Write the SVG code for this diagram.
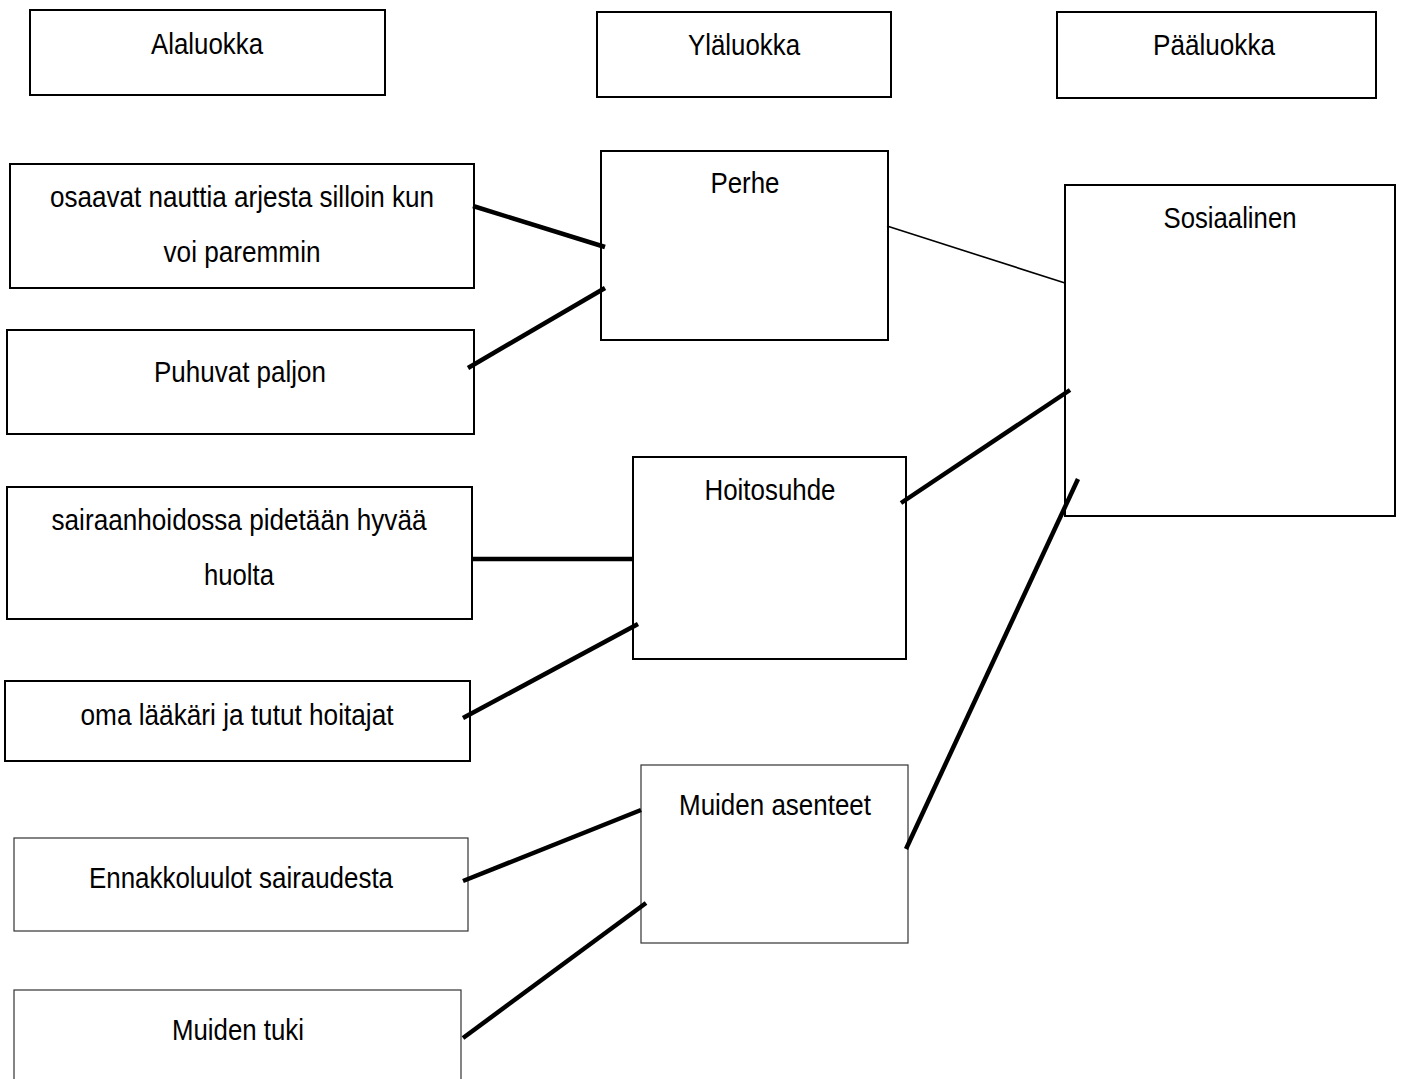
<svg xmlns="http://www.w3.org/2000/svg" width="1402" height="1079" viewBox="0 0 1402 1079">
<style>
.box{fill:#fff;stroke:#000;stroke-width:2}
.thin{fill:#fff;stroke:#333;stroke-width:1.2}
.t{font-family:"Liberation Sans",Arial,sans-serif;font-size:30px;fill:#000;text-anchor:middle}
.c{stroke:#000;stroke-width:4.5;fill:none}
.c1{stroke:#000;stroke-width:1.6;fill:none}
</style>
<rect width="1402" height="1079" fill="#fff"/>
<g id="h-alaluokka">
<rect class="box" x="30" y="10" width="355" height="85"/>
<text class="t" x="207" y="54" textLength="112" lengthAdjust="spacingAndGlyphs">Alaluokka</text>
</g>
<g id="h-ylaluokka">
<rect class="box" x="597" y="12" width="294" height="85"/>
<text class="t" x="744" y="55" textLength="112" lengthAdjust="spacingAndGlyphs">Yläluokka</text>
</g>
<g id="h-paaluokka">
<rect class="box" x="1057" y="12" width="319" height="86"/>
<text class="t" x="1214" y="55" textLength="122" lengthAdjust="spacingAndGlyphs">Pääluokka</text>
</g>
<g id="n-osaavat">
<rect class="box" x="10" y="164" width="464" height="124"/>
<text class="t" x="242" y="207" textLength="384" lengthAdjust="spacingAndGlyphs">osaavat nauttia arjesta silloin kun</text>
<text class="t" x="242" y="262" textLength="157" lengthAdjust="spacingAndGlyphs">voi paremmin</text>
</g>
<g id="n-puhuvat">
<rect class="box" x="7" y="330" width="467" height="104"/>
<text class="t" x="240" y="382" textLength="172" lengthAdjust="spacingAndGlyphs">Puhuvat paljon</text>
</g>
<g id="n-sairaanhoidossa">
<rect class="box" x="7" y="487" width="465" height="132"/>
<text class="t" x="239" y="530" textLength="375" lengthAdjust="spacingAndGlyphs">sairaanhoidossa pidetään hyvää</text>
<text class="t" x="239" y="585" textLength="70" lengthAdjust="spacingAndGlyphs">huolta</text>
</g>
<g id="n-oma">
<rect class="box" x="5" y="681" width="465" height="80"/>
<text class="t" x="237" y="725" textLength="313" lengthAdjust="spacingAndGlyphs">oma lääkäri ja tutut hoitajat</text>
</g>
<g id="n-ennakkoluulot">
<rect class="thin" x="14" y="838" width="454" height="93"/>
<text class="t" x="241" y="888" textLength="304" lengthAdjust="spacingAndGlyphs">Ennakkoluulot sairaudesta</text>
</g>
<g id="n-muiden-tuki">
<rect class="thin" x="14" y="990" width="447" height="100"/>
<text class="t" x="238" y="1040" textLength="132" lengthAdjust="spacingAndGlyphs">Muiden tuki</text>
</g>
<g id="n-perhe">
<rect class="box" x="601" y="151" width="287" height="189"/>
<text class="t" x="745" y="193" textLength="69" lengthAdjust="spacingAndGlyphs">Perhe</text>
</g>
<g id="n-hoitosuhde">
<rect class="box" x="633" y="457" width="273" height="202"/>
<text class="t" x="770" y="500" textLength="131" lengthAdjust="spacingAndGlyphs">Hoitosuhde</text>
</g>
<g id="n-muiden-asenteet">
<rect class="thin" x="641" y="765" width="267" height="178"/>
<text class="t" x="775" y="815" textLength="192" lengthAdjust="spacingAndGlyphs">Muiden asenteet</text>
</g>
<g id="n-sosiaalinen">
<rect class="box" x="1065" y="185" width="330" height="331"/>
<text class="t" x="1230" y="228" textLength="133" lengthAdjust="spacingAndGlyphs">Sosiaalinen</text>
</g>
<g id="connectors">
<line class="c" x1="473" y1="206" x2="605" y2="247"/>
<line class="c" x1="468" y1="368" x2="605" y2="288"/>
<line class="c1" x1="887" y1="226" x2="1065" y2="283"/>
<line class="c" x1="472" y1="559" x2="633" y2="559"/>
<line class="c" x1="463" y1="718" x2="638" y2="624"/>
<line class="c" x1="901" y1="503" x2="1070" y2="390"/>
<line class="c" x1="463" y1="881" x2="641" y2="810"/>
<line class="c" x1="463" y1="1038" x2="646" y2="903"/>
<line class="c" x1="906" y1="849" x2="1078" y2="479"/>
</g>
</svg>
